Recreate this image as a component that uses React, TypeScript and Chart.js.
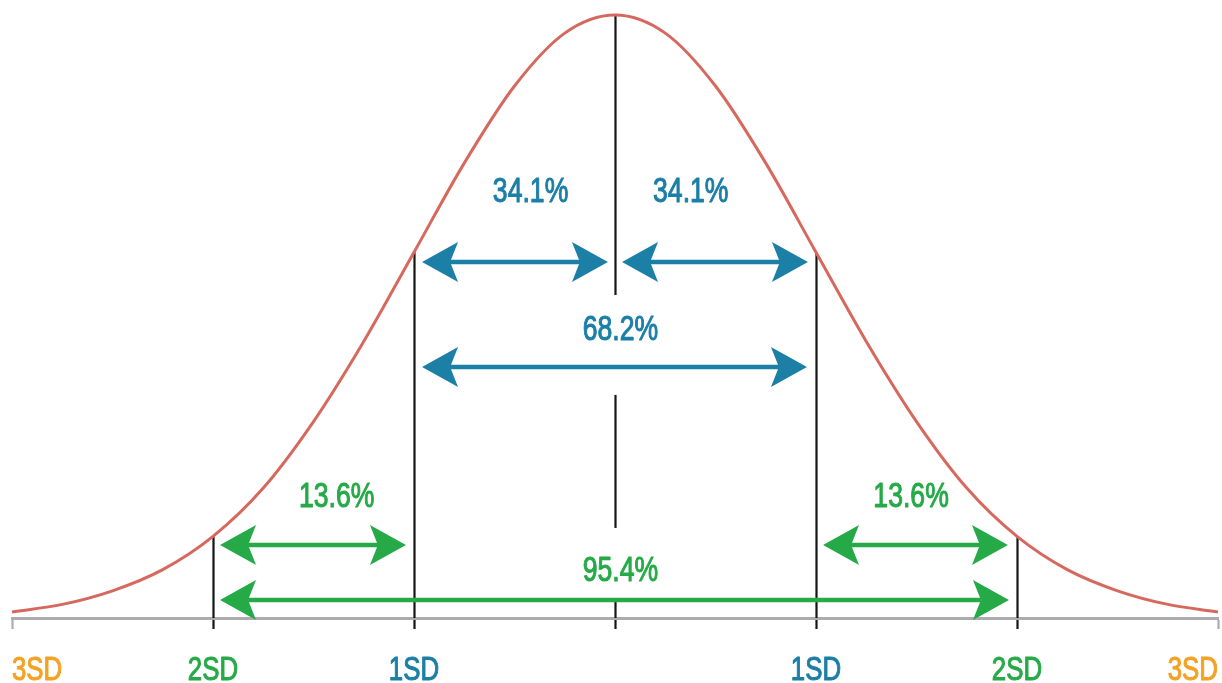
import React, { useEffect, useRef } from 'react';
import { Chart, registerables } from 'chart.js';

Chart.register(...registerables);

// ---- data ----
const curveX = [-3, -2.75, -2.5, -2.25, -2, -1.75, -1.5, -1.25, -1, -0.75, -0.5, -0.25, 0,
  0.25, 0.5, 0.75, 1, 1.25, 1.5, 1.75, 2, 2.25, 2.5, 2.75, 3];
const curveY = [0.004, 0.009, 0.018, 0.032, 0.054, 0.086, 0.13, 0.183, 0.242, 0.301, 0.352, 0.387, 0.399,
  0.387, 0.352, 0.301, 0.242, 0.183, 0.13, 0.086, 0.054, 0.032, 0.018, 0.009, 0.004];
const tickLabels = ['3SD', '2SD', '1SD', '', '1SD', '2SD', '3SD'];
const sdLines = [-2, -1, 1, 2];
const bandLabels = ['34.1%', '34.1%', '68.2%', '13.6%', '13.6%', '95.4%'];

const RED = 'rgb(214,104,94)';
const BLUE = 'rgb(27,127,166)';
const GREEN = 'rgb(38,170,72)';
const ORANGE = 'rgb(244,162,36)';
const GRAY = 'rgb(172,172,176)';
const BLACK = '#151515';
const tickColors = [ORANGE, GREEN, BLUE, BLUE, BLUE, GREEN, ORANGE];
const tickMarkColors = [GRAY, BLACK, BLACK, BLACK, BLACK, BLACK, GRAY];

const FONT = "'Liberation Sans', Arial, Helvetica, sans-serif";
const SQUEEZE = 0.76;

// annotation layout (in data units)
const arrows = [
  { from: -0.96, to: -0.035, y: 0.2356, color: BLUE },
  { from: 0.035, to: 0.96, y: 0.2356, color: BLUE },
  { from: -0.96, to: 0.955, y: 0.1661, color: BLUE },
  { from: -1.965, to: -1.04, y: 0.0483, color: GREEN },
  { from: 1.035, to: 1.955, y: 0.0483, color: GREEN },
  { from: -1.965, to: 1.96, y: 0.0119, color: GREEN },
];
const labelPos = [
  { x: -0.42, y: 0.2835, color: BLUE },
  { x: 0.377, y: 0.2835, color: BLUE },
  { x: 0.027, y: 0.1922, color: BLUE },
  { x: -1.385, y: 0.0817, color: GREEN },
  { x: 1.473, y: 0.0817, color: GREEN },
  { x: 0.027, y: 0.0331, color: GREEN },
];
const centerSegments = [
  [0.399, 0.2137],
  [0.1476, 0.0596],
  [0.0119, 0],
];

function drawArrow(ctx: CanvasRenderingContext2D, xa: number, xb: number, y: number, color: string) {
  const L = 36, H = 20, notch = 0.78;
  ctx.save();
  ctx.strokeStyle = color;
  ctx.fillStyle = color;
  ctx.lineWidth = 4.5;
  ctx.beginPath();
  ctx.moveTo(xa + L * 0.7, y);
  ctx.lineTo(xb - L * 0.7, y);
  ctx.stroke();
  const heads: [number, number][] = [[xa, 1], [xb, -1]];
  for (const [tip, dir] of heads) {
    ctx.beginPath();
    ctx.moveTo(tip, y);
    ctx.lineTo(tip + dir * L, y - H);
    ctx.lineTo(tip + dir * L * notch, y);
    ctx.lineTo(tip + dir * L, y + H);
    ctx.closePath();
    ctx.fill();
  }
  ctx.restore();
}

// condensed text: draws centred (vertically on the digit height) at x,y
function drawText(ctx: CanvasRenderingContext2D, text: string, x: number, yMid: number, color: string,
  size: number, align: CanvasTextAlign) {
  ctx.save();
  ctx.translate(x, yMid);
  ctx.scale(SQUEEZE, 1);
  ctx.font = `${size}px ${FONT}`;
  ctx.textAlign = align;
  ctx.textBaseline = 'alphabetic';
  ctx.fillStyle = color;
  ctx.strokeStyle = color;
  ctx.lineWidth = 1.1;
  ctx.lineJoin = 'round';
  ctx.fillText(text, 0, 0.358 * size);
  ctx.strokeText(text, 0, 0.358 * size);
  ctx.restore();
}

const annotationPlugin = {
  id: 'sdAnnotations',
  beforeDatasetsDraw(chart: any) {
    const { ctx, scales } = chart;
    const xs = scales.x, ys = scales.y;
    ctx.save();
    ctx.strokeStyle = BLACK;
    ctx.lineWidth = 2.2;
    for (const sd of sdLines) {
      const i = curveX.indexOf(sd);
      const px = Math.round(xs.getPixelForValue(sd)) + 0.5;
      ctx.beginPath();
      ctx.moveTo(px, ys.getPixelForValue(curveY[i]));
      ctx.lineTo(px, ys.getPixelForValue(0));
      ctx.stroke();
    }
    const cx = Math.round(xs.getPixelForValue(0)) + 0.5;
    for (const [a, b] of centerSegments) {
      ctx.beginPath();
      ctx.moveTo(cx, ys.getPixelForValue(a));
      ctx.lineTo(cx, ys.getPixelForValue(b));
      ctx.stroke();
    }
    ctx.restore();
  },
  afterDatasetsDraw(chart: any) {
    const { ctx, scales } = chart;
    const xs = scales.x, ys = scales.y;
    for (const a of arrows) {
      drawArrow(ctx, xs.getPixelForValue(a.from), xs.getPixelForValue(a.to), ys.getPixelForValue(a.y), a.color);
    }
    bandLabels.forEach((t, i) => {
      const p = labelPos[i];
      drawText(ctx, t, xs.getPixelForValue(p.x), ys.getPixelForValue(p.y), p.color, 35, 'center');
    });
  },
  afterDraw(chart: any) {
    const { ctx, scales } = chart;
    const xs = scales.x;
    const n = xs.ticks.length;
    xs.ticks.forEach((_t: any, i: number) => {
      const label = tickLabels[i];
      if (!label) return;
      const align: CanvasTextAlign = i === 0 ? 'left' : i === n - 1 ? 'right' : 'center';
      drawText(ctx, label, xs.getPixelForTick(i), xs.top + 50, tickColors[i], 34, align);
    });
  },
};

export default function App() {
  const ref = useRef<HTMLCanvasElement | null>(null);
  useEffect(() => {
    if (!ref.current) return;
    const chart = new Chart(ref.current, {
      type: 'line',
      data: {
        datasets: [
          {
            data: curveX.map((x, i) => ({ x, y: curveY[i] })),
            borderColor: RED,
            borderWidth: 3,
            pointRadius: 0,
            cubicInterpolationMode: 'monotone',
            fill: false,
            clip: false as any,
          },
        ],
      },
      options: {
        animation: false,
        responsive: true,
        maintainAspectRatio: false,
        layout: { padding: { top: 15, left: 12, right: 4, bottom: 0 } },
        plugins: { legend: { display: false }, tooltip: { enabled: false } },
        events: [],
        scales: {
          x: {
            type: 'linear',
            min: -3,
            max: 3,
            border: { display: true, color: GRAY, width: 3 },
            grid: {
              drawOnChartArea: false,
              drawTicks: true,
              tickLength: 11,
              tickWidth: 2.2,
              tickColor: (c: any) => tickMarkColors[c.index] ?? BLACK,
            },
            ticks: {
              display: false,
              stepSize: 1,
              autoSkip: false,
              maxRotation: 0,
              callback: (_v: any, i: number) => tickLabels[i],
            },
            afterFit: (scale: any) => {
              scale.paddingLeft = 0;
              scale.paddingRight = 0;
              scale.height = 65;
            },
          },
          y: { display: false, min: 0, max: 0.399 },
        },
      },
      plugins: [annotationPlugin],
    } as any);
    return () => chart.destroy();
  }, []);
  return (
    <div style={{ position: 'fixed', left: 0, top: 0, width: 1222, height: 683, background: '#fff' }}>
      <canvas ref={ref} />
    </div>
  );
}
